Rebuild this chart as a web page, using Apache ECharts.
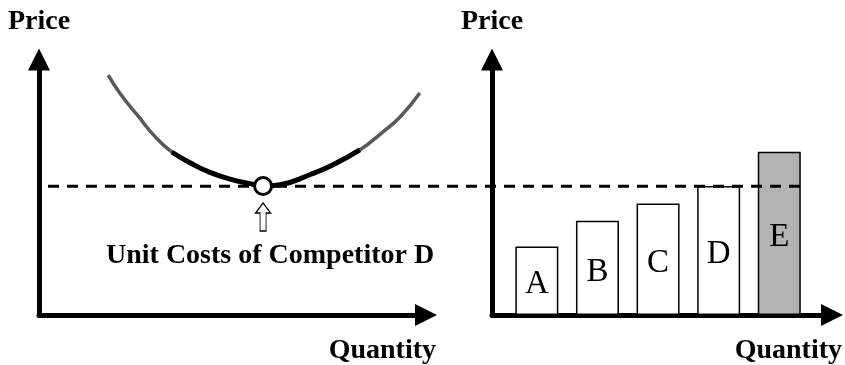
<!DOCTYPE html>
<html>
<head>
<meta charset="utf-8">
<title>Unit Costs of Competitor D</title>
<script src="https://cdn.jsdelivr.net/npm/echarts@6/dist/echarts.min.js"></script>
<style>
    html, body { margin: 0; padding: 0; background: #fff; }
    #main { width: 845px; height: 365px; }
</style>
</head>
<body>
<div id="main"></div>
<script type="text/javascript">
    // left panel: unit cost curve (quantity 0-100, price 0-100)
    var curveX = [17.9, 20.9, 25.7, 30.0, 34.4, 39.0, 44.2, 49.4, 54.5, 57.9, 62.3, 70.0, 76.0, 82.9, 88.9, 93.3, 98.4];
    var curveY = [93.9, 86.8, 77.7, 69.8, 63.7, 59.6, 55.8, 53.2, 51.4, 50.5, 51.0, 54.9, 58.8, 64.6, 71.7, 77.5, 86.9];
    var boldFrom = 34.4, boldTo = 82.9;
    var minPointX = 57.9;
    var unitCostD = 50.5;

    // right panel: unit costs per competitor
    var competitors = ['A', 'B', 'C', 'D', 'E'];
    var competitorCost = [26.8, 36.9, 43.6, 50.5, 63.9];

    var serif = "'Liberation Serif', 'Times New Roman', serif";

    var curveData = curveX.map(function (x, i) { return [x, curveY[i]]; });
    var boldData = curveData.filter(function (p) { return p[0] >= boldFrom && p[0] <= boldTo; });
    var barData = competitorCost.map(function (v, i) {
        return {
            value: [i + 1, v],
            itemStyle: { color: competitors[i] === 'E' ? '#b3b3b3' : '#fff' }
        };
    });

    function axisX(grid, min, max) {
        return {
            type: 'value', gridIndex: grid, min: min, max: max,
            name: 'Quantity', nameLocation: 'end', nameGap: 10,
            nameTextStyle: {
                fontFamily: serif, fontSize: 28, fontWeight: 'bold', color: '#000',
                align: 'right', verticalAlign: 'top', padding: [22, 0, 0, 0]
            },
            axisLine: {
                lineStyle: { color: '#000', width: 5 },
                symbol: ['none', 'triangle'], symbolSize: [22, 22]
            },
            axisTick: { show: false }, axisLabel: { show: false }, splitLine: { show: false }
        };
    }
    function axisY(grid) {
        return {
            type: 'value', gridIndex: grid, min: 0, max: 100,
            name: 'Price', nameLocation: 'end', nameGap: 24,
            nameTextStyle: { fontFamily: serif, fontSize: 28, fontWeight: 'bold', color: '#000' },
            axisLine: {
                show: true,
                lineStyle: { color: '#000', width: 5 },
                symbol: ['none', 'triangle'], symbolSize: [22, 22]
            },
            axisTick: { show: false }, axisLabel: { show: false }, splitLine: { show: false }
        };
    }

    var myChart = echarts.init(document.getElementById('main'));
    myChart.setOption({
        animation: false,
        backgroundColor: '#fff',
        grid: [
            { left: 39, top: 59.5, width: 387, height: 256 },
            { left: 492, top: 59.5, width: 340, height: 256 },
            // overlay for the dashed cost line across both panels
            { left: 48, top: 59.5, width: 757, height: 256 }
        ],
        xAxis: [
            axisX(0, 0, 100),
            axisX(1, 0.26, 5.87),
            { type: 'value', gridIndex: 2, min: 0, max: 1, show: false }
        ],
        yAxis: [
            axisY(0),
            axisY(1),
            { type: 'value', gridIndex: 2, min: 0, max: 100, show: false }
        ],
        // gray outer parts of the curve, black middle part
        visualMap: {
            type: 'piecewise', show: false, dimension: 0, seriesIndex: 2,
            pieces: [
                { lt: boldFrom, color: '#595959' },
                { gte: boldFrom, lte: boldTo, color: '#000' },
                { gt: boldTo, color: '#595959' }
            ]
        },
        series: [
            {
                type: 'bar', xAxisIndex: 1, yAxisIndex: 1, z: 2,
                barWidth: 43,
                data: barData,
                itemStyle: { borderColor: '#000', borderWidth: 1.5 },
                label: {
                    show: true, position: 'inside', offset: [0, 4],
                    fontFamily: serif, fontSize: 33, color: '#000',
                    formatter: function (p) { return competitors[p.dataIndex]; }
                }
            },
            {
                type: 'line', xAxisIndex: 2, yAxisIndex: 2, z: 3,
                data: [[0, unitCostD], [1, unitCostD]],
                symbol: 'none',
                lineStyle: { color: '#000', width: 3, type: [11, 8] }
            },
            {
                type: 'line', xAxisIndex: 0, yAxisIndex: 0, z: 4,
                data: curveData, smooth: 0.5, symbol: 'none',
                lineStyle: { width: 3.5 }
            },
            {
                type: 'line', xAxisIndex: 0, yAxisIndex: 0, z: 5,
                data: boldData, smooth: 0.5, symbol: 'none',
                lineStyle: { color: '#000', width: 5 }
            },
            {
                // hollow arrow pointing at the minimum
                type: 'scatter', xAxisIndex: 0, yAxisIndex: 0, z: 6,
                data: [[minPointX, unitCostD]],
                symbol: 'path://M7.5,0 L15,10 L10.5,10 L10.5,28 L4.5,28 L4.5,10 L0,10 Z',
                symbolSize: [15, 28], symbolOffset: [0, 31],
                itemStyle: { color: '#fff', borderColor: '#000', borderWidth: 1.2, opacity: 1 }
            },
            {
                type: 'scatter', xAxisIndex: 0, yAxisIndex: 0, z: 7,
                data: [[minPointX, unitCostD]],
                symbol: 'circle', symbolSize: 17,
                itemStyle: { color: '#fff', borderColor: '#000', borderWidth: 3, opacity: 1 },
                label: {
                    show: true, position: 'bottom', distance: 46, offset: [7, 0],
                    fontFamily: serif, fontSize: 28, fontWeight: 'bold', color: '#000',
                    formatter: 'Unit Costs of Competitor D'
                }
            }
        ]
    });
</script>
</body>
</html>
